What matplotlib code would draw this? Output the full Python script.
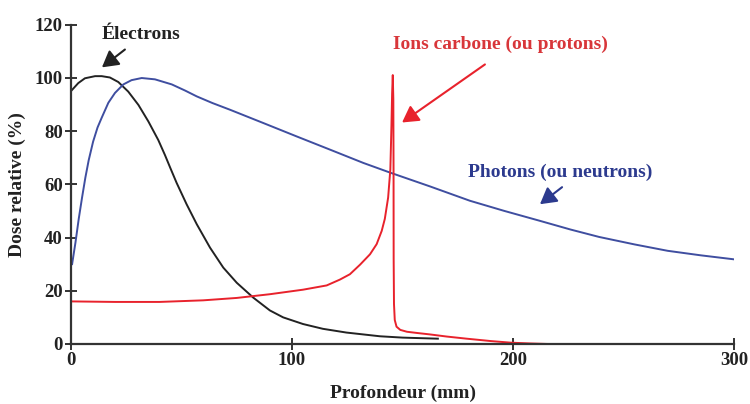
import matplotlib.pyplot as plt

# -- Data --
electron_x = [0, 3.3, 6.3, 10.9, 13.9, 17.6, 21.4, 25.9, 30.5, 35, 39.5, 42.5, 45, 47.8, 52.3, 56.9,
              62.9, 68.9, 75, 82.5, 90, 96, 105, 114, 124.6, 139.8, 150, 166]
electron_y = [95, 98, 99.8, 100.6, 100.6, 100.1, 98.4, 94.8, 89.8, 83.6, 76.6, 71, 66, 60.5, 52.5, 45,
              36.2, 28.7, 23, 17.4, 12.6, 10, 7.5, 5.7, 4.3, 2.9, 2.4, 2.0]

photon_x = [0.5, 2, 3.5, 5, 6.5, 8, 10, 12, 13.9, 16.9, 19.9, 23.7, 27.4, 32, 38, 45.6, 51.6, 56.9,
            64, 71.9, 87, 102, 117.2, 132.3, 144.3, 162.4, 180.5, 196, 212, 226, 239, 255, 270, 285, 300]
photon_y = [30, 38, 47, 55, 62.5, 69, 76, 81.3, 85, 90.6, 94.3, 97.5, 99.1, 99.9, 99.4, 97.5, 95.2, 93,
            90.5, 88, 83, 78, 73, 68, 64.4, 59.2, 53.8, 50, 46.3, 43, 40.2, 37.4, 35, 33.3, 31.8]

carbon_x = [0, 20, 40, 59.8, 75, 90, 105, 115.7, 121.7, 126.2, 130.8, 135.3, 138.3, 140.6, 142, 143.5,
            144.5, 145.0, 145.3, 145.6, 145.85, 145.95, 146.0, 146.15, 146.5, 147.3, 149, 152, 157,
            162.4, 170, 179, 190, 199, 208, 216]
carbon_y = [16.0, 15.8, 15.8, 16.4, 17.3, 18.7, 20.4, 22.0, 24.2, 26.2, 29.8, 33.7, 37.5, 42.5, 47, 55,
            65.6, 82, 94, 101, 92, 65, 32, 15, 9, 6.5, 5.3, 4.6, 4.1,
            3.6, 2.8, 2.0, 1.1, 0.5, 0.2, 0]

x_ticks = [0, 100, 200, 300]
y_ticks = [0, 20, 40, 60, 80, 100, 120]

# -- Style --
plt.rcParams['font.family'] = ['Liberation Serif', 'DejaVu Serif']
plt.rcParams['font.weight'] = 'bold'
black = '#222222'
blue = '#3f4ea0'
red = '#e8222c'
red_text = '#d8363a'
blue_text = '#2c3a8e'
axis_col = '#333333'

fig = plt.figure(figsize=(7.5, 4.04), dpi=100)
ax = fig.add_axes([71 / 750, 1 - 344 / 404, (734 - 71) / 750, (344 - 24.5) / 404])

ax.plot(electron_x, electron_y, color=black, lw=1.4, solid_joinstyle='round')
ax.plot(photon_x, photon_y, color=blue, lw=1.4, solid_joinstyle='round')
ax.plot(carbon_x, carbon_y, color=red, lw=1.4, solid_joinstyle='round')

ax.set_xlim(0, 300)
ax.set_ylim(0, 120)
ax.set_xticks(x_ticks)
ax.set_yticks(y_ticks)
for s in ['top', 'right']:
    ax.spines[s].set_visible(False)
for s in ['left', 'bottom']:
    ax.spines[s].set_color(axis_col)
    ax.spines[s].set_linewidth(1.6)
ax.tick_params(direction='inout', length=8, width=1.4, color=axis_col,
               labelsize=13.5, labelcolor='#222222', pad=2)
for lab in ax.get_xticklabels() + ax.get_yticklabels():
    lab.set_fontweight('bold')

ax.set_xlabel('Profondeur (mm)', fontsize=14, fontweight='bold', color='#222222', labelpad=11)
ax.set_ylabel('Dose relative (%)', fontsize=14, fontweight='bold', color='#222222', labelpad=6)

# -- Annotations --
ax.text(31.7, 116.2, 'Électrons', ha='center', va='center', fontsize=14,
        fontweight='bold', color=black)
ax.annotate('', xy=(14.0, 103.9), xytext=(24.4, 110.6),
            arrowprops=dict(arrowstyle='-|>,head_length=0.7,head_width=0.4',
                            color=black, lw=1.5, mutation_scale=14, shrinkA=0, shrinkB=0))

ax.text(194.1, 112.5, 'Ions carbone (ou protons)', ha='center', va='center', fontsize=14,
        fontweight='bold', color=red_text)
ax.annotate('', xy=(149.8, 83.2), xytext=(187.3, 105),
            arrowprops=dict(arrowstyle='-|>,head_length=0.7,head_width=0.4',
                            color=red, lw=1.5, mutation_scale=14, shrinkA=0, shrinkB=0))

ax.text(221.3, 64.5, 'Photons (ou neutrons)', ha='center', va='center', fontsize=14,
        fontweight='bold', color=blue_text)
ax.annotate('', xy=(212.2, 52.5), xytext=(222.2, 58.9),
            arrowprops=dict(arrowstyle='-|>,head_length=0.7,head_width=0.4',
                            color=blue_text, lw=1.5, mutation_scale=14, shrinkA=0, shrinkB=0))

fig.savefig('out.png', dpi=100)
